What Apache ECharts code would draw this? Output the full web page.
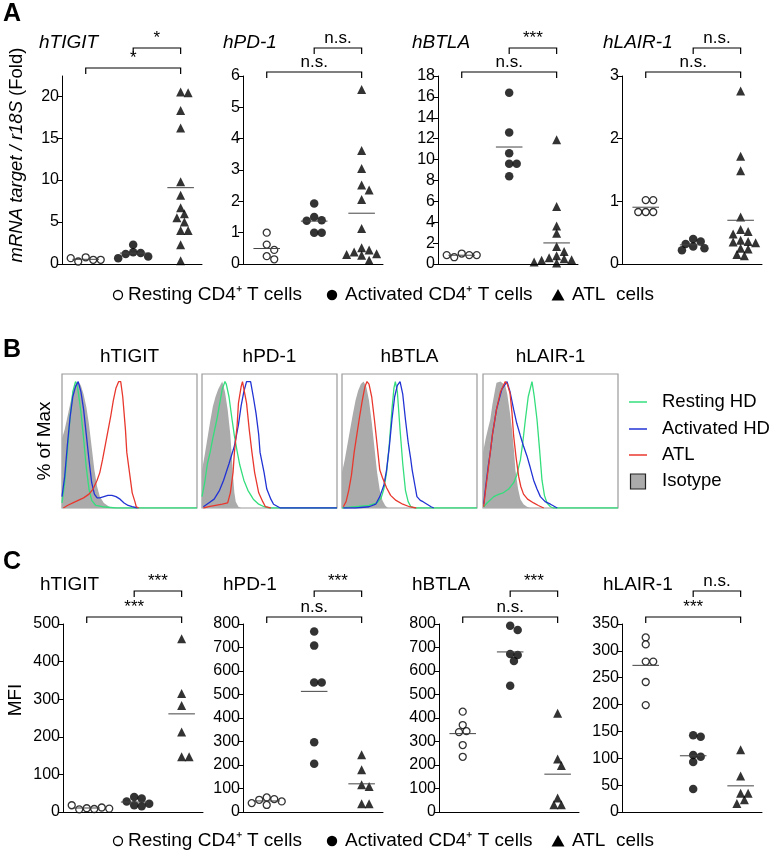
<!DOCTYPE html>
<html><head><meta charset="utf-8">
<script src="https://cdn.jsdelivr.net/npm/echarts@6/dist/echarts.min.js"></script>
<style>html,body{margin:0;padding:0;background:#fff}#c{width:769px;height:855px}</style>
</head><body><div id="c"></div>
<script>
// ---------- DATA ----------
const markerNames = ['hTIGIT', 'hPD-1', 'hBTLA', 'hLAIR-1'];
const groupNames = ['Resting CD4\u207A T cells', 'Activated CD4\u207A T cells', 'ATL  cells'];
const histLegend = ['Resting HD', 'Activated HD', 'ATL', 'Isotype'];

// Panel A : mRNA target / r18S (Fold)
const aTigitRest = [0.8, 0.5, 0.3, 0.5, 0.7];
const aTigitAct  = [2.3, 1.4, 1.3, 1.2, 0.9, 0.7];
const aTigitAtl  = [20.5, 20.4, 18.3, 16.2, 9.8, 8.2, 6.7, 6.0, 5.5, 5.0, 4.0, 4.0, 2.3, 0.4];
const aPd1Rest = [1.0, 0.62, 0.45, 0.25, 0.15];
const aPd1Act  = [1.93, 1.5, 1.4, 1.38, 1.0, 1.0];
const aPd1Atl  = [5.57, 3.62, 3.05, 2.52, 2.36, 2.06, 1.13, 0.52, 0.45, 0.38, 0.33, 0.3, 0.28, 0.12];
const aBtlaRest = [1.0, 0.85, 0.65, 0.85, 0.85];
const aBtlaAct  = [16.4, 12.6, 10.6, 9.6, 9.6, 8.4];
const aBtlaAtl  = [11.9, 5.5, 3.65, 2.95, 1.67, 1.2, 0.8, 0.6, 0.5, 0.4, 0.35, 0.3, 0.2, 0.15, 0.1];
const aLairRest = [1.02, 1.02, 0.83, 0.83, 0.83];
const aLairAct  = [0.4, 0.36, 0.32, 0.28, 0.25, 0.22];
const aLairAtl  = [2.76, 1.72, 1.49, 0.75, 0.55, 0.52, 0.48, 0.38, 0.36, 0.35, 0.34, 0.25, 0.24, 0.15, 0.13];

// Panel C : MFI
const cTigitRest = [10, 8, 7, 12, 18, 9];
const cTigitAct  = [40, 36, 28, 22, 18, 15];
const cTigitAtl  = [461, 315, 283, 213, 147, 147];
const cPd1Rest = [62, 55, 52, 45, 38, 30];
const cPd1Act  = [768, 708, 551, 551, 297, 205];
const cPd1Atl  = [244, 180, 116, 109, 35, 35];
const cBtlaRest = [427, 370, 344, 340, 285, 235];
const cBtlaAct  = [793, 774, 672, 668, 643, 537];
const cBtlaAtl  = [420, 226, 198, 60, 31, 31];
const cLairRest = [325, 312, 280, 280, 242, 199];
const cLairAct  = [143, 140, 106, 103, 93, 43];
const cLairAtl  = [116, 67, 35, 35, 23, 16];

// tick labels
const aTigitTicks = [0, 5, 10, 15, 20];
const aPd1Ticks = [0, 1, 2, 3, 4, 5, 6];
const aBtlaTicks = [0, 2, 4, 6, 8, 10, 12, 14, 16, 18];
const aLairTicks = [0, 1, 2, 3];
const cTigitTicks = [0, 100, 200, 300, 400, 500];
const cPd1Ticks = [0, 100, 200, 300, 400, 500, 600, 700, 800];
const cBtlaTicks = [0, 100, 200, 300, 400, 500, 600, 700, 800];
const cLairTicks = [0, 50, 100, 150, 200, 250, 300, 350];

// significance (upper: activated vs ATL, lower: resting vs ATL)
const aSigUpper = ['*', 'n.s.', '***', 'n.s.'];
const aSigLower = ['*', 'n.s.', 'n.s.', 'n.s.'];
const cSigUpper = ['***', '***', '***', 'n.s.'];
const cSigLower = ['***', 'n.s.', 'n.s.', '***'];

// Panel B histograms: [fluorescence position (% of box), % of Max]
const hTigitIso  = [[0,55],[2,62],[4,72],[6,82],[8,92],[10,98],[12,100],[14,97],[16,90],[18,80],[20,66],[22,48],[24,30],[26,17],[28,9],[31,4],[35,1],[40,0]];
const hTigitRest = [[0,4],[2,20],[4,45],[6,72],[8,92],[10,100],[11,98],[12,92],[14,76],[16,55],[18,32],[20,15],[22,6],[25,2],[30,1],[40,0],[100,0]];
const hTigitAct  = [[0,9],[2,25],[4,50],[6,72],[8,88],[10,96],[12,100],[14,92],[16,78],[18,58],[20,38],[22,20],[24,11],[26,8],[28,8],[31,9],[34,10],[37,10],[40,9],[43,7],[46,4],[49,2],[52,1],[56,0]];
const hTigitAtl  = [[1,0],[4,2],[8,4],[12,6],[16,8],[20,11],[23,15],[26,22],[28,28],[30,38],[33,55],[36,72],[38,85],[40,95],[42,100],[43.5,100],[45,88],[47,62],[48,44],[50,28],[52,12],[54,5],[55,1],[57,0]];
const hPd1Iso  = [[0,30],[2,42],[4,55],[6,68],[8,80],[10,88],[12,94],[14,98],[15,100],[17,92],[19,78],[21,58],[22,42],[23,25],[24,12],[25,5],[27,1],[29,0]];
const hPd1Rest = [[0,9],[2,20],[4,35],[6,44],[8,55],[11,70],[13,82],[15,94],[17,100],[18,98],[20,88],[22,72],[24,57],[26,45],[28,34],[31,22],[34,14],[38,7],[42,3],[46,1],[50,0],[100,0]];
const hPd1Act  = [[1,1],[5,4],[9,7],[13,14],[16,22],[20,35],[24,49],[27,66],[29,81],[31,92],[33,100],[36,100],[38,88],[40,75],[42,58],[43,44],[46,28],[48,15],[51,7],[53,3],[58,0],[100,0]];
const hPd1Atl  = [[1,0],[5,1],[10,2],[15,3],[19,4],[21,12],[23,28],[24,44],[26,65],[27,83],[29,96],[30,100],[31,99],[33,83],[35,62],[37,44],[39,28],[42,12],[45,5],[47,1],[51,0]];
const hBtlaIso  = [[0,28],[2,38],[4,50],[6,62],[8,74],[10,85],[12,93],[14,98],[16,100],[18,96],[20,85],[22,68],[24,48],[26,28],[28,14],[30,6],[32,2],[34,0]];
const hBtlaRest = [[0,0],[10,1],[20,2],[26,4],[29,8],[31,15],[33,28],[35,50],[37,78],[38.5,95],[39.5,100],[41,92],[43,62],[45,35],[47,14],[49,5],[51,1],[54,0],[100,0]];
const hBtlaAct  = [[1,0],[10,0],[20,1],[25,3],[28,9],[31,18],[33,30],[35,48],[37,70],[39,88],[41,97],[43,100],[45,90],[47,70],[49,52],[51,38],[52,30],[54,18],[55.5,9],[58,6],[60,5],[63,3],[66,1],[68,0]];
const hBtlaAtl  = [[1,1],[3,5],[5,14],[7,26],[9,44],[11,58],[13,72],[15,85],[17,96],[18.5,100],[20,98],[22,88],[24,70],[26,50],[28,30],[30,24],[33,16],[36,10],[40,6],[45,3],[50,1],[55,0]];
const hLairIso  = [[0,44],[2,55],[4,64],[5.4,70],[7,82],[9,94],[10,99],[13,100],[16.5,97],[18,90],[20,75],[21.5,62],[23,45],[24,30],[26,15],[27.7,7],[30,3],[32.6,1],[35,0]];
const hLairRest = [[0.5,1],[3,4],[8,9],[12,11],[15,12],[19,15],[22.7,20],[25,26],[27.7,38],[29.5,52],[31.4,70],[33.5,88],[36.3,100],[38,88],[40,70],[42,45],[43.7,22],[45.5,10],[47.4,4],[50,1],[52,0],[100,0]];
const hLairAct  = [[0.5,3],[2,17],[4,34],[5.4,44],[7,58],[10,78],[14,94],[17.8,100],[20,92],[22.7,78],[25,67],[27.7,57],[30,49],[32.6,41],[35,32],[37.5,22],[40,15],[42.5,9],[46,5],[50,3],[55,0]];
const hLairAtl  = [[0.5,1],[2,15],[4,32],[5.4,44],[7,58],[10,78],[13,92],[16.5,100],[18,98],[20,91],[21.5,75],[22.7,57],[24.5,40],[26.4,25],[28,17],[30,11],[33,7],[37.5,4],[41,2],[45,0]];

// ---------- LAYOUT / STYLE ----------
const FONT = '"Liberation Sans", Arial, Helvetica, sans-serif';
const XMIN = 0.5, XMAX = 3.45, GW = 140, GH = 188;
const GREEN = '#34de7c', BLUE = '#2233d4', RED = '#e8382e', ISO = '#ababab';

const panels = [
  {left:62,  top:76,  max:22.4, ticks:aTigitTicks, groups:[aTigitRest,aTigitAct,aTigitAtl], italic:true,  tx:39,  ty:43,  up:aSigUpper[0], low:aSigLower[0], upY:48, lowY:68},
  {left:243, top:76,  max:6,    ticks:aPd1Ticks,   groups:[aPd1Rest,aPd1Act,aPd1Atl],       italic:true,  tx:223, ty:43,  up:aSigUpper[1], low:aSigLower[1], upY:48, lowY:72},
  {left:438, top:76,  max:18,   ticks:aBtlaTicks,  groups:[aBtlaRest,aBtlaAct,aBtlaAtl],    italic:true,  tx:412, ty:43,  up:aSigUpper[2], low:aSigLower[2], upY:48, lowY:72},
  {left:622, top:76,  max:3,    ticks:aLairTicks,  groups:[aLairRest,aLairAct,aLairAtl],    italic:true,  tx:603, ty:43,  up:aSigUpper[3], low:aSigLower[3], upY:48, lowY:72},
  {left:63,  top:624, max:500,  ticks:cTigitTicks, groups:[cTigitRest,cTigitAct,cTigitAtl], italic:false, tx:40,  ty:585, up:cSigUpper[0], low:cSigLower[0], upY:591, lowY:617},
  {left:243, top:624, max:800,  ticks:cPd1Ticks,   groups:[cPd1Rest,cPd1Act,cPd1Atl],       italic:false, tx:223, ty:585, up:cSigUpper[1], low:cSigLower[1], upY:591, lowY:617},
  {left:439, top:624, max:800,  ticks:cBtlaTicks,  groups:[cBtlaRest,cBtlaAct,cBtlaAtl],    italic:false, tx:412, ty:585, up:cSigUpper[2], low:cSigLower[2], upY:591, lowY:617},
  {left:622, top:624, max:350,  ticks:cLairTicks,  groups:[cLairRest,cLairAct,cLairAtl],    italic:false, tx:603, ty:585, up:cSigUpper[3], low:cSigLower[3], upY:591, lowY:617}
];
const hists = [
  {left:62,  iso:hTigitIso, rest:hTigitRest, act:hTigitAct, atl:hTigitAtl},
  {left:202, iso:hPd1Iso,   rest:hPd1Rest,   act:hPd1Act,   atl:hPd1Atl},
  {left:342, iso:hBtlaIso,  rest:hBtlaRest,  act:hBtlaAct,  atl:hBtlaAtl},
  {left:483, iso:hLairIso,  rest:hLairRest,  act:hLairAct,  atl:hLairAtl}
];
const HTOP = 374, HW = 135, HH = 134;

const symbolStyles = [
  {symbol:'circle', symbolSize:7, itemStyle:{color:'#fff', borderColor:'#000', borderWidth:1.3}},
  {symbol:'circle', symbolSize:8.5, itemStyle:{color:'#000'}},
  {symbol:'triangle', symbolSize:9, itemStyle:{color:'#000'}}
];

// simple beeswarm: spread overlapping points horizontally (pixel space)
function swarm(vals, center, ymax, size) {
  const pxPerY = GH / ymax, pxPerX = GW / (XMAX - XMIN);
  const placed = [], out = [];
  vals.forEach(v => {
    const py = v * pxPerY;
    let best = 0;
    for (let k = 0; k < 60; k++) {
      const off = k === 0 ? 0 : (k % 2 ? 1 : -1) * Math.ceil(k / 2) * size * 0.5;
      if (placed.every(p => Math.hypot(p[0] - off, p[1] - py) >= size * 0.92)) { best = off; break; }
    }
    placed.push([best, py]);
    out.push([center + best / pxPerX, v]);
  });
  return out;
}
const mean = a => a.reduce((s, v) => s + v, 0) / a.length;

const grid = [], xAxis = [], yAxis = [], series = [];
panels.forEach((p, i) => {
  grid.push({left:p.left, top:p.top, width:GW, height:GH});
  xAxis.push({gridIndex:i, type:'value', min:XMIN, max:XMAX,
    axisLine:{show:true, onZero:false, lineStyle:{color:'#000', width:1}},
    axisTick:{show:false}, axisLabel:{show:false}, splitLine:{show:false}});
  yAxis.push({gridIndex:i, type:'value', min:0, max:p.max, interval:p.ticks[1]-p.ticks[0],
    axisLine:{show:true, onZero:false, lineStyle:{color:'#000', width:1}},
    axisTick:{show:true, length:5, lineStyle:{color:'#000'}, customValues:p.ticks},
    axisLabel:{fontSize:16, color:'#000', margin:3, fontFamily:FONT, customValues:p.ticks},
    splitLine:{show:false}});
  p.groups.forEach((vals, g) => {
    const c = g + 1;
    series.push(Object.assign({type:'scatter', xAxisIndex:i, yAxisIndex:i, z:2, animation:false,
      data: swarm(vals, c, p.max, 7.5)}, symbolStyles[g]));
    const m = mean(vals);
    series.push({type:'line', xAxisIndex:i, yAxisIndex:i, z:3, animation:false, symbol:'none', silent:true,
      data:[[c - 0.28, m], [c + 0.28, m]], lineStyle:{color:'#444', width:1}});
  });
});
hists.forEach((h, j) => {
  const gi = panels.length + j;
  grid.push({left:h.left, top:HTOP, width:HW, height:HH, show:true, borderColor:'#9a9a9a', borderWidth:1.2, backgroundColor:'transparent'});
  xAxis.push({gridIndex:gi, type:'value', min:0, max:100, show:false});
  yAxis.push({gridIndex:gi, type:'value', min:0, max:106, show:false});
  series.push({type:'line', xAxisIndex:gi, yAxisIndex:gi, data:h.iso, symbol:'none', z:1, animation:false,
    lineStyle:{width:0, color:ISO}, areaStyle:{color:ISO, opacity:1}});
  [[h.rest, GREEN], [h.act, BLUE], [h.atl, RED]].forEach(([d, col], k) => {
    series.push({type:'line', xAxisIndex:gi, yAxisIndex:gi, data:d, symbol:'none', z:2 + k, animation:false,
      lineStyle:{width:1.3, color:col}});
  });
});

const chart = echarts.init(document.getElementById('c'), null, {renderer:'canvas'});
chart.setOption({animation:false, backgroundColor:'#fff', grid, xAxis, yAxis, series});

// ---------- TEXT, BRACKETS, LEGENDS ----------
const g = [];
const txt = (x, y, text, opt) => g.push({type:'text', x, y, silent:true,
  style:Object.assign({text, fill:'#000', fontFamily:FONT, fontSize:17, textAlign:'left', textVerticalAlign:'middle'}, opt || {})});

txt(3, 14, 'A', {fontSize:25, fontWeight:'bold'});
txt(3, 350, 'B', {fontSize:25, fontWeight:'bold'});
txt(3, 562, 'C', {fontSize:25, fontWeight:'bold'});

panels.forEach((p, i) => {
  txt(p.tx, p.ty, markerNames[i % 4], {fontSize:19, fontStyle:p.italic ? 'italic' : 'normal'});
  const px = [1, 2, 3].map(c => chart.convertToPixel({gridIndex:i}, [c, 0])[0]);
  const br = (x1, x2, y, label) => {
    g.push({type:'polyline', silent:true, shape:{points:[[x1, y + 6], [x1, y], [x2, y], [x2, y + 6]]},
      style:{stroke:'#000', lineWidth:1.2, fill:null}});
    txt((x1 + x2) / 2, y - 1, label, {textAlign:'center', textVerticalAlign:'bottom', fontSize:label === 'n.s.' ? 17 : 17});
  };
  br(px[1], px[2], p.upY, p.up);
  br(px[0], px[2], p.lowY, p.low);
});

hists.forEach((h, j) => txt(h.left + HW / 2, 357, markerNames[j], {textAlign:'center', fontSize:19}));

// axis names
g.push({type:'text', x:17, y:155, rotation:Math.PI / 2, silent:true,
  style:{text:'{i|mRNA target / r18S} (Fold)', fontFamily:FONT, fontSize:18.5, fill:'#000', textAlign:'center', textVerticalAlign:'middle',
    rich:{i:{fontStyle:'italic', fontFamily:FONT, fontSize:18.5}}}});
g.push({type:'text', x:45, y:441, rotation:Math.PI / 2, silent:true,
  style:{text:'% of Max', fontFamily:FONT, fontSize:19, fill:'#000', textAlign:'center', textVerticalAlign:'middle'}});
g.push({type:'text', x:16, y:700, rotation:Math.PI / 2, silent:true,
  style:{text:'MFI', fontFamily:FONT, fontSize:19, fill:'#000', textAlign:'center', textVerticalAlign:'middle'}});

// group legends (rows A and C)
[295, 841].forEach(y => {
  g.push({type:'circle', silent:true, shape:{cx:118, cy:y, r:4.5}, style:{fill:'#fff', stroke:'#000', lineWidth:1.3}});
  txt(128, y, groupNames[0], {fontSize:19});
  g.push({type:'circle', silent:true, shape:{cx:332, cy:y, r:5.2}, style:{fill:'#000'}});
  txt(345, y, groupNames[1], {fontSize:19});
  g.push({type:'polygon', silent:true, shape:{points:[[558, y - 6], [564.5, y + 5.5], [551.5, y + 5.5]]}, style:{fill:'#000'}});
  txt(572, y, groupNames[2], {fontSize:19});
});

// histogram legend
const legCols = [GREEN, BLUE, RED];
[402, 429, 455].forEach((y, k) => {
  g.push({type:'line', silent:true, shape:{x1:629, y1:y, x2:647, y2:y}, style:{stroke:legCols[k], lineWidth:1.5}});
  txt(662, y, histLegend[k], {fontSize:18.5});
});
g.push({type:'rect', silent:true, shape:{x:630.5, y:474, width:15, height:15}, style:{fill:ISO, stroke:'#222', lineWidth:1.2}});
txt(662, 481, histLegend[3], {fontSize:18.5});

chart.setOption({graphic:g});
</script></body></html>
